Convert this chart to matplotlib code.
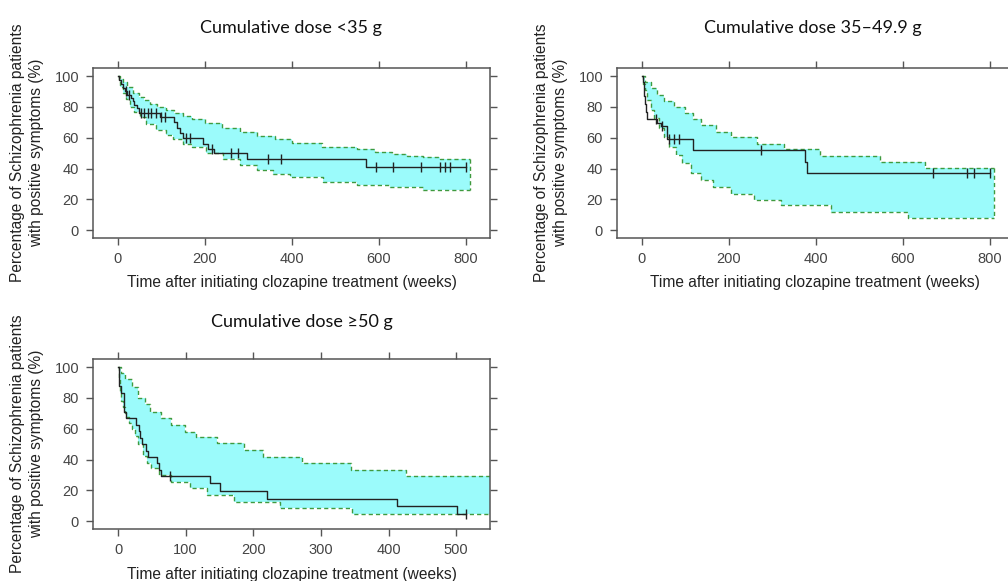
import numpy as np
import matplotlib.pyplot as plt

# ---- data (time in weeks, survival in %) ----
# Cumulative dose <35 g
t1 = [0, 3, 7, 11, 16, 22, 30, 35, 38, 43, 48, 97, 130, 137, 143, 150, 196, 207, 220, 296, 569]
s1 = [100, 97.5, 95, 92.5, 90, 88, 86, 84, 81.5, 79, 75.8, 73.6, 70, 66, 63, 59.5, 56, 53, 49.8, 45.9, 41.1]
c1 = [19, 25, 54, 61, 69, 77, 88, 100, 109, 157, 165, 216, 259, 276, 345, 375, 594, 632, 697, 739, 752, 764, 800]
up1_x = [0, 5, 12, 22, 35, 48, 60, 75, 90, 110, 128, 150, 170, 200, 240, 280, 320, 360, 400, 470, 550, 590, 630, 665, 700, 740, 808]
up1_y = [100, 98, 96, 93, 89, 86.5, 84.5, 82, 80, 78, 76, 74, 72, 69.5, 66.5, 64, 61, 59, 56.5, 54, 52.4, 51, 49.5, 48, 47.2, 46, 46]
lo1_x = [0, 3, 6, 11, 18, 27, 38, 50, 65, 88, 110, 127, 150, 170, 203, 242, 280, 320, 357, 395, 472, 549, 626, 702, 808]
lo1_y = [100, 97, 93, 89, 85, 80, 77, 73.6, 69, 65, 61.5, 59, 56, 54, 49.8, 45.9, 42.2, 39, 36.8, 34.6, 31.4, 29.2, 28, 26, 26]

# Cumulative dose 35-49.9 g
t2 = [0, 2, 4, 6, 8, 10, 12, 35, 45, 57, 117, 376, 379]
s2 = [100, 96, 92, 87, 82, 77, 72, 69.7, 67.5, 59, 52.2, 44.5, 37.1]
c2 = [33, 46, 63, 73, 85, 273, 668, 748, 762, 800]
up2_x = [0, 8, 20, 35, 50, 75, 100, 118, 135, 170, 204, 265, 327, 410, 548, 650, 808]
up2_y = [100, 96, 92, 88, 84, 80, 76, 72, 68, 64, 60.3, 56, 52.4, 48.2, 44.2, 40.2, 40.2]
lo2_x = [0, 3, 7, 13, 20, 28, 40, 51, 62, 78, 93, 112, 135, 164, 205, 258, 320, 435, 611, 808]
lo2_y = [100, 95, 91, 84.4, 78, 72.6, 66, 60.7, 54.2, 48.8, 43.4, 37, 32.6, 28.1, 23.8, 19.9, 16.2, 12, 7.9, 7.9]

# Cumulative dose >=50 g
t3 = [0, 1.5, 4, 9, 12, 27, 31, 33, 36, 42, 45, 57, 60, 63, 136, 151, 221, 412, 501]
s3 = [100, 88, 83.3, 70.8, 66.7, 62.5, 58.3, 54.2, 50, 45.8, 41.7, 37.5, 33.3, 29.2, 24.7, 19.6, 14.5, 9.7, 5]
c3 = [77, 515]
up3_x = [0, 5, 10, 20, 30, 40, 47, 64, 79, 99, 116, 146, 186, 215, 272, 344, 426, 600]
up3_y = [100, 96, 92.5, 87, 80, 76, 71, 66.7, 62.4, 58, 54.5, 50.5, 46, 41.8, 37.6, 33.5, 29.2, 29.2]
lo3_x = [0, 1, 2.5, 5, 7.4, 10, 12.3, 16, 20, 25, 30, 37, 43, 49, 60, 79, 106, 131, 171, 240, 346, 600]
lo3_y = [100, 92, 83, 78, 74, 70, 67.7, 64, 60, 55, 50, 42, 38, 34.4, 30, 25.5, 21.5, 17.2, 12.6, 8.4, 4.6, 4.6]

titles = ["Cumulative dose <35 g", "Cumulative dose 35\u201349.9 g", "Cumulative dose \u226550 g"]
xlab = "Time after initiating clozapine treatment (weeks)"
ylab = "Percentage of Schizophrenia patients\nwith positive symptoms (%)"

W, H = 1008, 581
FILL = '#9bfbfb'
EDGE = '#3f9a3f'
GRAY = '#555555'


def steps(x, y):
    xs, ys = [x[0]], [y[0]]
    for i in range(1, len(x)):
        xs += [x[i], x[i]]
        ys += [y[i - 1], y[i]]
    return np.array(xs), np.array(ys)


def panel(ax, t, s, cens, ux, uy, lx, ly, xlim, xticks, close_right):
    uxs, uys = steps(ux, uy)
    lxs, lys = steps(lx, ly)
    px = np.concatenate([uxs, lxs[::-1]])
    py = np.concatenate([uys, lys[::-1]])
    ax.fill(px, py, color=FILL, lw=0, zorder=1)
    kw = dict(color=EDGE, lw=1.0, ls=(0, (3, 2.2)), zorder=2)
    ax.plot(uxs, uys, **kw)
    ax.plot(lxs, lys, **kw)
    if close_right:
        ax.plot([ux[-1], lx[-1]], [uy[-1], ly[-1]], **kw)
    # km curve
    tx, ty = steps(t + [max(cens)], s + [s[-1]])
    ax.plot(tx, ty, color='#222222', lw=1.0, zorder=3)
    idx = np.searchsorted(t, cens, side='right') - 1
    cy = np.array(s)[idx]
    ax.plot(cens, cy, ls='none', marker='|', ms=7, mew=1.0, color='#222222', zorder=4)

    ax.set_xlim(*xlim)
    ax.set_ylim(-5, 105.2)
    ax.set_xticks(xticks)
    ax.set_yticks([0, 20, 40, 60, 80, 100])
    ax.tick_params(direction='out', top=True, right=True, length=5, width=1,
                   color=GRAY, labelcolor='#444444', labelsize=10.5, pad=5)
    for sp in ax.spines.values():
        sp.set_color(GRAY)
        sp.set_linewidth(1.1)


def fig_text(x, y, txt, **kw):
    fig.text(x / W, 1 - y / H, txt, ha='center', va='center', **kw)


plt.rcParams['font.family'] = ['Liberation Sans', 'DejaVu Sans']
fig = plt.figure(figsize=(W / 100, H / 100), dpi=100)

ax1 = fig.add_axes([93 / W, 1 - 238 / H, 397 / W, 170 / H])
ax2 = fig.add_axes([617 / W, 1 - 238 / H, 397 / W, 170 / H])
ax3 = fig.add_axes([93 / W, 1 - 529 / H, 397 / W, 170 / H])

panel(ax1, t1, s1, c1, up1_x, up1_y, lo1_x, lo1_y, (-57, 855), [0, 200, 400, 600, 800], True)
panel(ax2, t2, s2, c2, up2_x, up2_y, lo2_x, lo2_y, (-57, 855), [0, 200, 400, 600, 800], True)
panel(ax3, t3, s3, c3, up3_x, up3_y, lo3_x, lo3_y, (-37, 550), [0, 100, 200, 300, 400, 500], False)

tfont = dict(family=['Lato', 'DejaVu Sans'], fontsize=13, color='#111111')
fig_text(291, 28, titles[0], **tfont)
fig_text(813, 28, titles[1], **tfont)
fig_text(302, 322, titles[2], **tfont)

xfont = dict(fontsize=11.2, color='#222222')
fig_text(292, 283, xlab, **xfont)
fig_text(815, 283, xlab, **xfont)
fig_text(292, 574, xlab, **xfont)

fig_text(27, 153, ylab, rotation=90, linespacing=1.3, **xfont)
fig_text(551, 153, ylab, rotation=90, linespacing=1.3, **xfont)
fig_text(27, 444, ylab, rotation=90, linespacing=1.3, **xfont)

fig.savefig('out.png', dpi=100)
